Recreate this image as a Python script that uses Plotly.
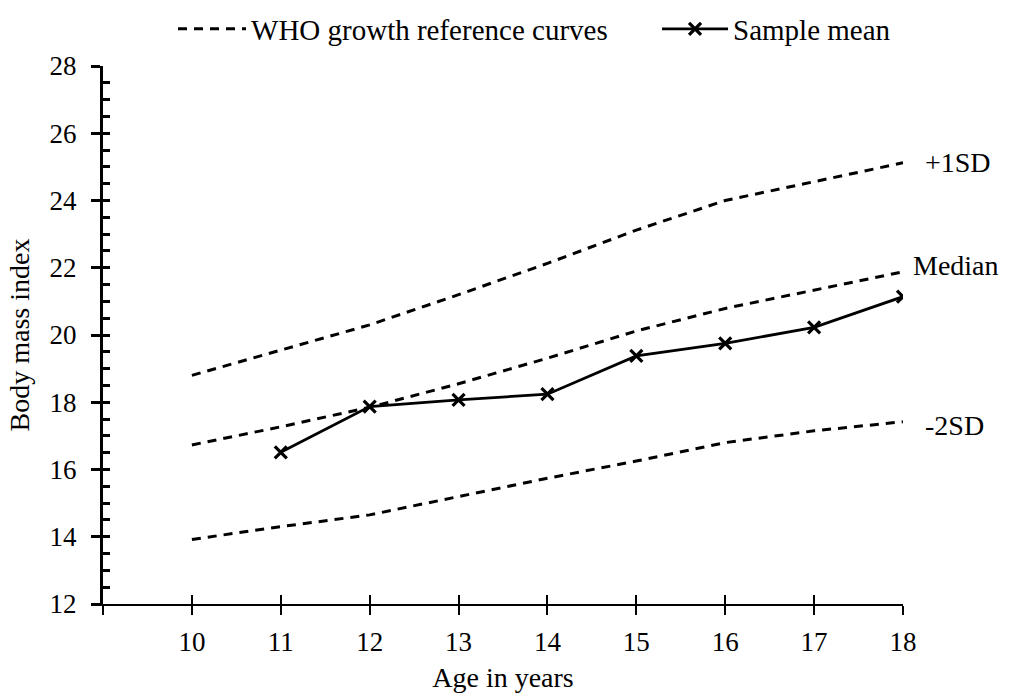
import plotly.graph_objects as go

ages_ref = [10, 11, 12, 13, 14, 15, 16, 17, 18]
plus1sd = [18.8, 19.55, 20.3, 21.2, 22.13, 23.12, 24.0, 24.56, 25.12]
median = [16.73, 17.27, 17.85, 18.55, 19.31, 20.12, 20.79, 21.34, 21.88]
minus2sd = [13.92, 14.3, 14.65, 15.19, 15.74, 16.25, 16.8, 17.15, 17.42]

ages_sample = [11, 12, 13, 14, 15, 16, 17, 18]
sample_mean = [16.51, 17.87, 18.07, 18.24, 19.38, 19.75, 20.23, 21.14]

x_ticks = [9, 10, 11, 12, 13, 14, 15, 16, 17, 18]
x_ticktext = ["", "10", "11", "12", "13", "14", "15", "16", "17", "18"]
curve_labels = ["+1SD", "Median", "-2SD"]

FONT = "Liberation Serif"
fig = go.Figure()

dash_style = dict(color="black", width=3, dash="9px,7px")
for i, (vals, lab) in enumerate(zip([plus1sd, median, minus2sd], curve_labels)):
    fig.add_trace(go.Scatter(
        x=ages_ref, y=vals, mode="lines", line=dash_style,
        name="WHO growth reference curves", legend="legend",
        showlegend=(i == 0), hoverinfo="skip"))

fig.add_trace(go.Scatter(
    x=ages_sample, y=sample_mean, mode="lines+markers",
    line=dict(color="black", width=2.8),
    marker=dict(symbol="x-thin", size=12, line=dict(color="black", width=3.2)),
    name="Sample mean", legend="legend2"))

# helper invisible trace for overlay axes (crossing ticks)
fig.add_trace(go.Scatter(x=[None], y=[None], xaxis="x2", yaxis="y2",
                         showlegend=False, hoverinfo="skip"))

shifts = {"+1SD": (20, 0), "Median": (8, 6), "-2SD": (20, -4)}
for vals, lab in zip([plus1sd, median, minus2sd], curve_labels):
    dx, dy = shifts[lab]
    fig.add_annotation(x=ages_ref[-1], y=vals[-1], text=lab, showarrow=False,
                       xanchor="left", yanchor="middle", xshift=dx, yshift=dy,
                       font=dict(family=FONT, size=28, color="black"))

legend_common = dict(orientation="h", xref="container", yref="container",
                     y=0.995, xanchor="left", yanchor="top",
                     font=dict(family=FONT, size=29, color="black"),
                     bgcolor="rgba(0,0,0,0)")

fig.update_layout(
    width=1013, height=695,
    margin=dict(l=103, r=110, t=66, b=91, autoexpand=False),
    paper_bgcolor="white", plot_bgcolor="white",
    font=dict(family=FONT, size=27, color="black"),
    showlegend=True,
    legend=dict(x=0.1708, itemwidth=68, **legend_common),
    legend2=dict(x=0.6486, itemwidth=66, **legend_common),
    xaxis=dict(range=[9, 18], tickvals=x_ticks, ticktext=x_ticktext,
               showline=True, linecolor="black", linewidth=2,
               ticks="outside", ticklen=9, tickwidth=1.5, tickcolor="black",
               showgrid=False, zeroline=False, ticklabelstandoff=4,
               title=dict(text="Age in years", font=dict(size=28), standoff=11)),
    yaxis=dict(range=[12, 28], dtick=2, tick0=12,
               showline=True, linecolor="black", linewidth=3,
               ticks="outside", ticklen=9, tickwidth=2.5, tickcolor="black",
               showgrid=False, zeroline=False, ticklabelstandoff=9,
               title=dict(text="Body mass index", font=dict(size=28), standoff=12)),
    xaxis2=dict(range=[9, 18], overlaying="x", tickvals=x_ticks, showticklabels=False,
                ticks="inside", ticklen=9, tickwidth=1.5, tickcolor="black",
                showline=False, showgrid=False, zeroline=False),
    yaxis2=dict(range=[12, 28], overlaying="y", dtick=0.5, tick0=12, showticklabels=False,
                ticks="inside", ticklen=7, tickwidth=2.5, tickcolor="black",
                showline=False, showgrid=False, zeroline=False),
)

fig.write_html("out.html")
